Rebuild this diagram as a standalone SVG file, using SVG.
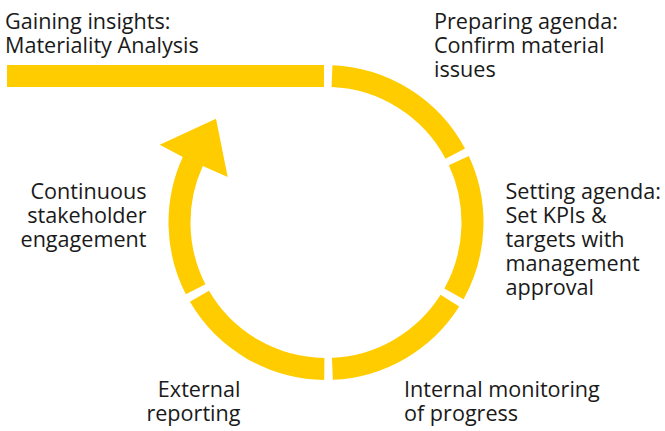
<svg xmlns="http://www.w3.org/2000/svg" width="665" height="431" viewBox="0 0 665 431">
  <defs>
    <style>
      .seg { fill: none; stroke: #FFCC00; stroke-width: 22; stroke-linecap: butt; }
      .fillY { fill: #FFCC00; stroke: none; }
      .lbl { font-family: "Open Sans", "Noto Sans", "DejaVu Sans", sans-serif; font-size: 21.6px; fill: #1a1a1a; }
      .end { text-anchor: end; }
    </style>
  </defs>
  <rect width="665" height="431" fill="#ffffff"/>

  <g id="connectors">
    <rect id="bar" class="fillY" x="7" y="65" width="317" height="22"/>
    <path id="seg-prepare" class="seg" d="M 332.01 76.12 A 146.5 146.5 0 0 1 455.28 153.59"/>
    <path id="seg-setting" class="seg" d="M 458.84 160.72 A 146.5 146.5 0 0 1 453.96 293.84"/>
    <path id="seg-monitor" class="seg" d="M 449.89 300.69 A 146.5 146.5 0 0 1 332.39 368.86"/>
    <path id="seg-report" class="seg" d="M 324.31 368.99 A 146.5 146.5 0 0 1 199.46 296.33"/>
    <path id="seg-engage-arrow" class="fillY" d="M 185.84 294.34 A 157.5 157.5 0 0 1 182.79 156.94 L 159.7 144.7 L 216 118.7 L 227.7 177 L 202.8 166.09 A 135.5 135.5 0 0 0 205.42 284.31 Z"/>
  </g>

  <g id="node-insights">
    <text class="lbl" x="5" y="29">Gaining insights:</text>
    <text class="lbl" x="5" y="53">Materiality Analysis</text>
  </g>
  <g id="node-preparing">
    <text class="lbl" x="434" y="29">Preparing agenda:</text>
    <text class="lbl" x="434" y="53">Confirm material</text>
    <text class="lbl" x="434" y="77">issues</text>
  </g>
  <g id="node-setting">
    <text class="lbl" x="505.5" y="199">Setting agenda:</text>
    <text class="lbl" x="505.5" y="223">Set KPIs &amp;</text>
    <text class="lbl" x="505.5" y="247">targets with</text>
    <text class="lbl" x="505.5" y="271">management</text>
    <text class="lbl" x="505.5" y="295">approval</text>
  </g>
  <g id="node-monitoring">
    <text class="lbl" x="404" y="397">Internal monitoring</text>
    <text class="lbl" x="404" y="421">of progress</text>
  </g>
  <g id="node-reporting">
    <text class="lbl end" x="240.5" y="397">External</text>
    <text class="lbl end" x="240.5" y="421">reporting</text>
  </g>
  <g id="node-engagement">
    <text class="lbl end" x="146.5" y="199">Continuous</text>
    <text class="lbl end" x="146.5" y="223">stakeholder</text>
    <text class="lbl end" x="146.5" y="247">engagement</text>
  </g>
</svg>
